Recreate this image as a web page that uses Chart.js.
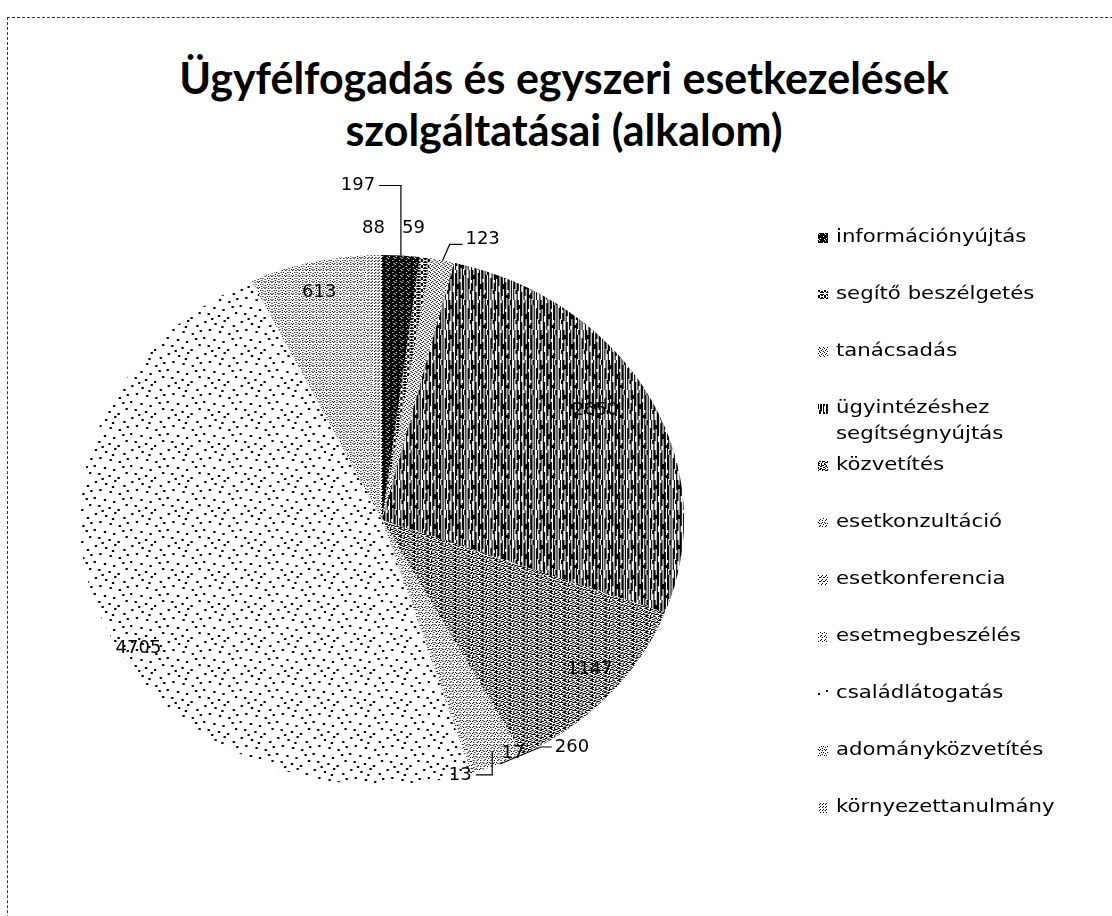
<!DOCTYPE html>
<html><head><meta charset="utf-8">
<script src="https://cdn.jsdelivr.net/npm/chart.js@4"></script>
<style>
html,body{margin:0;padding:0;background:#fff;}
#wrap{position:relative;width:1112px;height:916px;overflow:hidden;}
#frame{position:absolute;left:7px;top:17px;width:1200px;height:1000px;border-left:1px dashed #333;border-top:1px dashed #333;}
#title{position:absolute;left:8px;top:52px;width:1112px;text-align:center;font:bold 43px Lato, sans-serif;line-height:52px;color:#000;white-space:nowrap;}
canvas{position:absolute;left:0;top:0;}
</style></head>
<body><div id="wrap"><div id="frame"></div>
<div id="title">Ügyfélfogadás és egyszeri esetkezelések<br>szolgáltatásai (alkalom)</div>
<canvas id="c" width="1112" height="916"></canvas></div>
<script>
// ---- data ----
const categories = ["információnyújtás","segítő beszélgetés","tanácsadás","ügyintézéshez segítségnyújtás","közvetítés","esetkonzultáció","esetkonferencia","esetmegbeszélés","családlátogatás","adományközvetítés","környezettanulmány"];
const values = [197,59,123,2650,1147,260,17,13,4705,613,88];

// ---- styling / layout config ----
const SX = 1.14;                 // horizontal stretch of the pie (ellipse)
const LABEL_FONT = '18px "DejaVu Sans"';
const LEGEND_FONT = '17px "DejaVu Sans"';
const LEG_TEXT_SX = 1.25;
const LEG_X = 818, LEG_Y0 = 238, LEG_STEP = 57.0, LEG_WRAP = 200, LEG_LINE2 = 26;
const labelPlace = [
  {out:[-43,-70], lead:'up'},
  {out:[-12,-29]},
  {out:[40,-21], lead:'right'},
  {f:0.82, da:-2.6},
  {f:0.89, da:-2},
  {out:[72,-17], lead:'left'},
  {out:[38,-19]},
  {out:[-12,2], lead:'hook'},
  {f:0.94, da:-9.6},
  {f:0.885, da:0.8},
  {out:[0,-27]}
];

const cv = document.getElementById('c');
const ctx = cv.getContext('2d');

function tileRows(rows){
  const h = rows.length, w = rows[0].length;
  const t = document.createElement('canvas'); t.width = w; t.height = h;
  const g = t.getContext('2d'); g.fillStyle = '#fff'; g.fillRect(0,0,w,h); g.fillStyle = '#000';
  rows.forEach((r,y)=>{ for(let x=0;x<w;x++) if(r[x]==='#') g.fillRect(x,y,1,1); });
  return ctx.createPattern(t,'repeat');
}
function tileDots(w,h,pts,s){
  const t = document.createElement('canvas'); t.width = w; t.height = h;
  const g = t.getContext('2d'); g.fillStyle = '#fff'; g.fillRect(0,0,w,h); g.fillStyle = '#000';
  pts.forEach(p=>g.fillRect(p[0],p[1],s,s));
  return ctx.createPattern(t,'repeat');
}
function tileRuns(w,h,cols){ // vertical streak tile: cols[x] = list of [start,len] black runs
  const t = document.createElement('canvas'); t.width = w; t.height = h;
  const g = t.getContext('2d'); g.fillStyle = '#fff'; g.fillRect(0,0,w,h); g.fillStyle = '#000';
  cols.forEach((runs,x)=>runs.forEach(r=>g.fillRect(x,r[0],1,r[1])));
  return ctx.createPattern(t,'repeat');
}
const patterns = [
  tileRows(["###.##","######","#.####","######","####.#","##.###"]),
  tileRows(["##..##","#.##.#","..##..","#.##.#","##..##","......"]),
  tileRows(["#...","..#.",".#..","...#"]),
  tileRuns(20,30,[
    [[0,10],[13,17]],[[0,21]],[[5,4]],[[0,30]],[[0,16],[22,8]],[],
    [[3,27]],[[0,26]],[[14,5]],[[0,30]],[[0,9],[12,18]],[[25,3]],
    [[0,20],[23,7]],[[5,24]],[[0,5]],[[0,30]],[],[[8,22]],[[0,19]],[[20,4]]
  ]),
  tileRows([
   "###..#..##..",
   "..##.###..#.",
   "#...##...##.",
   ".##....##..#",
   "###.##...#..",
   "...##.###..#",
   "#.#...#..###",
   ".###.#..#..."]),
  tileRows(["#.#...","...#.#",".#....","....#.","#..#..","......"]),
  tileRows([".#..","#..#","....","..#."]),
  tileRows(["#...","..#.","....",".#.."]),
  tileDots(32,32,[[2,1],[11,3],[19,0],[27,5],[6,9],[15,11],[23,13],[30,10],[1,17],[10,19],[18,21],[26,18],[5,25],[14,27],[22,29],[29,24],[8,30],[17,6]],2),
  tileRows(["#..#..","......",".#...#","...#..","#.....","..#.#."]),
  tileRows(["#..","...",".#."])
];

const ellipsePlugin = {
  id:'ellipse',
  beforeDatasetsDraw(chart){
    const a = chart.getDatasetMeta(0).data[0];
    const c = chart.ctx; c.save(); c.translate(a.x,a.y); c.scale(SX,1); c.translate(-a.x,-a.y);
  },
  afterDatasetsDraw(chart){ chart.ctx.restore(); }
};

const labelPlugin = {
  id:'pieLabels',
  afterDraw(chart){
    const c = chart.ctx, meta = chart.getDatasetMeta(0);
    c.save(); c.font = LABEL_FONT; c.fillStyle = '#000'; c.strokeStyle = '#000'; c.lineWidth = 1.2;
    c.textAlign = 'center'; c.textBaseline = 'middle';
    meta.data.forEach((arc,i)=>{
      const p = labelPlace[i]; const txt = String(chart.data.datasets[0].data[i]);
      const mid = (arc.startAngle + arc.endAngle)/2;
      const r = arc.outerRadius;
      let tx, ty;
      if (p.f !== undefined){
        const ang = mid + p.da*Math.PI/180;
        tx = arc.x + p.f*r*SX*Math.cos(ang); ty = arc.y + p.f*r*Math.sin(ang);
      } else {
        const ex = arc.x + r*SX*Math.cos(mid), ey = arc.y + r*Math.sin(mid);
        tx = ex + p.out[0]; ty = ey + p.out[1];
        const w = c.measureText(txt).width;
        c.beginPath();
        if (p.lead==='up'){ c.moveTo(ex,ey); c.lineTo(ex,ty); c.lineTo(tx+w/2+4,ty); }
        else if (p.lead==='right'){ c.moveTo(ex,ey); c.lineTo(ex+7,ty+5); c.lineTo(tx-w/2-3,ty+5); }
        else if (p.lead==='left'){ c.moveTo(ex,ey); c.lineTo(tx-w/2-14,ty); c.lineTo(tx-w/2-3,ty); }
        else if (p.lead==='hook'){ c.moveTo(tx+w/2+4,ty); c.lineTo(ex+20,ty); c.lineTo(ex+20,ey-22); }
        if (p.lead) c.stroke();
      }
      c.fillText(txt, tx, ty);
    });
    c.restore();
  }
};

function stretchedText(c, t, x, y){
  c.save(); c.translate(x,y); c.scale(LEG_TEXT_SX,1); c.fillText(t,0,0); c.restore();
}
const legendPlugin = {
  id:'sideLegend',
  afterDraw(chart){
    const c = chart.ctx; c.save(); c.font = LEGEND_FONT; c.fillStyle = '#000'; c.textBaseline = 'middle'; c.textAlign = 'left';
    chart.data.labels.forEach((lab,i)=>{
      const y = LEG_Y0 + i*LEG_STEP;
      c.fillStyle = chart.data.datasets[0].backgroundColor[i];
      c.fillRect(LEG_X, y-5, 10, 10);
      c.fillStyle = '#000';
      if (c.measureText(lab).width > LEG_WRAP && lab.indexOf(' ')>0){
        const k = lab.indexOf(' ');
        stretchedText(c, lab.slice(0,k), LEG_X+18, y);
        stretchedText(c, lab.slice(k+1), LEG_X+18, y+LEG_LINE2);
      } else stretchedText(c, lab, LEG_X+18, y);
    });
    c.restore();
  }
};

new Chart(ctx, {
  type:'pie',
  data:{ labels:categories, datasets:[{ data:values, backgroundColor:patterns, borderWidth:0 }] },
  options:{
    responsive:false, animation:false, events:[],
    layout:{ padding:{ left:117, right:465, top:255, bottom:131 } },
    plugins:{ legend:{display:false}, title:{display:false}, tooltip:{enabled:false} }
  },
  plugins:[ellipsePlugin, labelPlugin, legendPlugin]
});
</script>
</body></html>
